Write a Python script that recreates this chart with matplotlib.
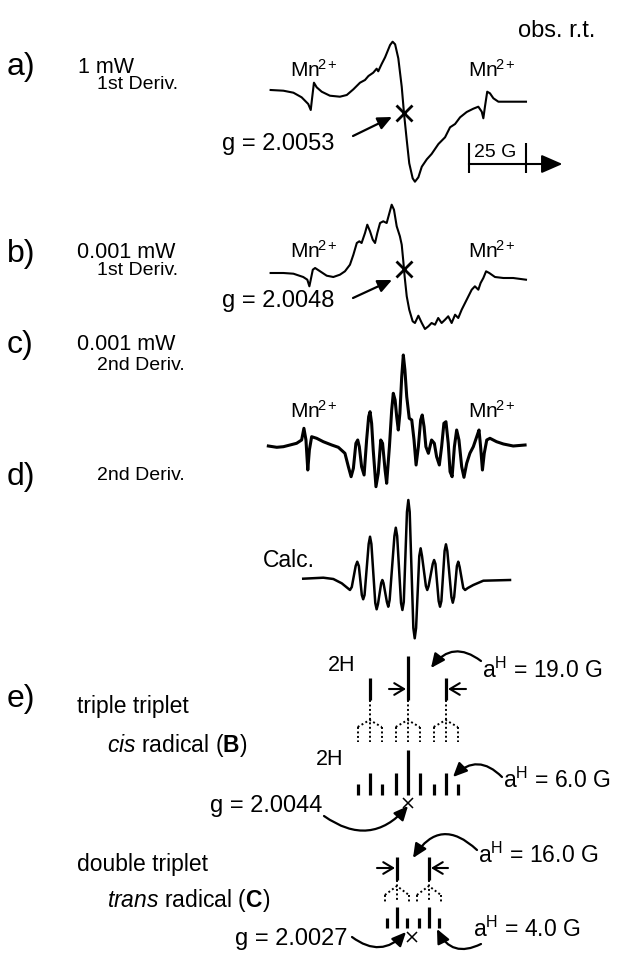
import numpy as np
import matplotlib
matplotlib.use('Agg')
import matplotlib.pyplot as plt

plt.rcParams['font.family'] = ['Liberation Sans', 'DejaVu Sans']
plt.rcParams['mathtext.fontset'] = 'custom'
plt.rcParams['mathtext.rm'] = 'Liberation Sans'
plt.rcParams['mathtext.it'] = 'Liberation Sans:italic'
plt.rcParams['mathtext.bf'] = 'Liberation Sans:bold'

# ===========================================
# traced spectra: field offset from the g marker (G), signal (arb. units)

# a) 1 mW, 1st derivative
field_a = [-58.5, -52.9, -48.5, -44.9, -42.0, -40.9, -40.4, -39.5, -38.3, -36.1,
           -32.5, -28.1, -25.1, -22.2, -19.3, -17.1, -15.6, -13.5, -12.0, -11.3,
           -9.8, -8.3, -6.1, -5.0, -3.9, -2.5, -1.0, 0.0, 1.2, 2.3,
           3.8, 4.8, 6.3, 7.8, 10.0, 12.1, 15.1, 18.0, 20.2, 22.4,
           24.6, 27.5, 30.4, 32.6, 34.1, 34.8, 35.5, 36.5, 37.7, 39.2,
           41.4, 45.0, 53.5]
sig_a = [0, -0.7, -2.7, -7.3, -14, -20, -10, 7.3, 2.7, -1.7,
         -5.7, -6.7, -5, 0.7, 7.3, 10, 14, 17.3, 21.3, 18.7,
         26, 32.7, 45, 48.3, 45.7, 31.7, 3.3, -23.3, -50, -73.3,
         -88.3, -91.7, -87.3, -76.7, -69.3, -64, -54, -47.3, -37.3, -34,
         -27.3, -22, -18.7, -16.7, -21.7, -28.3, -16.7, -1.7, -3.3, -8.3,
         -11.7, -11.7, -11.7]

# b) 0.001 mW, 1st derivative
field_b = [-58.5, -52.9, -48.5, -44.2, -42.4, -41.5, -40.9, -40.0, -39.0, -36.8,
           -33.9, -31.0, -28.1, -25.9, -23.7, -22.2, -20.7, -19.6, -18.6, -17.1,
           -16.1, -14.9, -13.7, -12.7, -11.7, -10.5, -9.1, -7.6, -6.4, -5.4,
           -4.4, -3.2, -1.8, -1.0, -0.3, 0.3, 1.2, 2.3, 3.8, 4.8,
           6.3, 7.8, 9.2, 10.7, 12.1, 13.6, 15.0, 16.5, 18.0, 19.4,
           20.9, 22.4, 23.8, 25.3, 27.5, 29.7, 31.1, 32.6, 33.6, 34.8,
           36.0, 37.4, 39.9, 43.6, 47.9, 53.5]
sig_b = [0, 0, -0.7, -4, -6.7, -13.3, -6.7, 3.3, 5, 1.7,
         -2.7, -4, -1.7, 1.7, 8.3, 18.3, 30, 31.7, 30, 40,
         48.3, 41.7, 33.3, 30, 40, 50, 51.7, 50, 60, 68.3,
         63.3, 46.7, 36.7, 28.3, 11.7, -4, -23.3, -36.7, -48.3, -50,
         -42.7, -50, -56, -53.3, -50, -51.7, -45, -50, -46.7, -43.3,
         -50, -41.7, -45, -36.7, -26.7, -16.7, -13.3, -16.7, -10, -5,
         1.7, 0, -4, -5, -5, -6.7]

# c) 0.001 mW, 2nd derivative
field_c = [-59.5, -55.8, -52.9, -50.0, -47.1, -44.9, -43.9, -43.0, -42.2, -41.5,
           -40.5, -38.3, -35.4, -31.7, -28.8, -25.9, -24.4, -23.2, -22.2, -21.1,
           -20.3, -19.6, -18.6, -17.5, -16.4, -15.5, -14.9, -14.2, -13.5, -12.3,
           -11.3, -10.2, -9.4, -8.3, -7.6, -6.4, -5.4, -4.7, -3.9, -3.2,
           -2.5, -1.8, -1.0, -0.3, 0.4, 1.2, 2.3, 3.4, 4.4, 5.3,
           6.3, 7.3, 8.0, 8.8, 9.6, 10.7, 12.1, 13.3, 14.3, 15.5,
           16.5, 17.5, 18.4, 19.4, 20.2, 21.1, 22.1, 23.1, 24.1, 25.3,
           26.3, 27.5, 28.9, 30.4, 31.9, 32.9, 33.6, 34.4, 35.2, 36.3,
           37.7, 40.6, 43.6, 47.9, 53.1]
sig_c = [0, -1.3, -0.7, 1, 2.7, 6, 17.7, 6, -24, -4,
         9.3, 7.7, 4.3, 1, -1.3, -7.3, -20.7, -30.7, -22.3, 2.7,
         6, -0.7, -20.7, -29, 6, 29.3, 34.3, 22.7, -4, -40.7,
         -27.3, 6, 2.7, -24, -37.3, -0.7, 36, 52.7, 46, 29.3,
         16, 32.7, 69.3, 91, 76, 49.3, 27.7, 26, 6, -19,
         -0.7, 26, 31, 19.3, -0.7, -7.3, 6, 2.7, -10.7, -19,
         -0.7, 22.7, 24.3, 2.7, -25.7, -30.7, -0.7, 16, 6, -20.7,
         -31.3, -17.3, -7.3, -0.7, 9.3, 16, -0.7, -24, -7.3, 6,
         7.7, 4.3, 2, 0, 1]

# d) calculated 2nd derivative
field_d = [-44.2, -35.4, -31.0, -27.3, -24.5, -23.7, -22.9, -21.2, -20.5, -19.8,
           -18.5, -17.9, -17.3, -15.5, -14.9, -14.3, -12.6, -12.0, -11.4, -10.0,
           -9.5, -9.0, -7.5, -6.9, -6.3, -4.2, -3.6, -3.0, -1.3, -0.7,
           -0.1, 1.3, 1.9, 2.5, 4.1, 4.7, 5.3, 6.7, 7.3, 7.9,
           9.6, 10.2, 10.8, 12.6, 13.2, 13.8, 15.2, 15.8, 16.4, 17.8,
           18.4, 19.0, 20.8, 21.4, 22.0, 23.2, 23.8, 24.4, 26.0, 26.8,
           28.0, 30.4, 34.8, 46.5]
sig_d = [1.3, 2.3, 1, -3.3, -8.5, -10, -7, 14, 18.3, 14,
         -15, -19.3, -15, 36, 43.3, 36, -23, -29.3, -24, -3,
         0, -3, -22, -26.7, -20, 44, 52.3, 44, -23, -30,
         -22, 68, 80, 68, -48, -58.3, -48, 24, 31.7, 24,
         -6, -10, -6, 16, 20, 16, -21, -26.7, -21, 29,
         35.7, 29, -17, -22.7, -17, 14, 18.3, 13, -8, -10,
         -8, -5, -0.7, 0]

# e) stick diagrams: line positions (G from centre) and relative intensities
cis_split = [-19, 0, 19]
cis_split_int = [1, 2, 1]
cis_lines = [-25, -19, -13, -6, 0, 6, 13, 19, 25]
cis_lines_int = [1, 2, 1, 2, 4, 2, 1, 2, 1]
trans_split = [-8, 8]
trans_split_int = [1, 1]
trans_lines = [-13, -8, -3, 3, 8, 13]
trans_lines_int = [1, 2, 1, 1, 2, 1]

# ===========================================

W, H = 617, 956
fig = plt.figure(figsize=(W / 100, H / 100), dpi=100)


def full_axes(xlim):
    a = fig.add_axes([0, 0, 1, 1])
    a.set_xlim(*xlim)
    a.set_ylim(H, 0)
    a.axis('off')
    a.patch.set_alpha(0)
    return a


ov = full_axes((0, W))                       # page, pixels
X0, PXG = 404, 2.28                          # spectra field scale
sp = full_axes(((0 - X0) / PXG, (W - X0) / PXG))
cis = full_axes(((0 - 407.7) / 2.0, (W - 407.7) / 2.0))
trans = full_axes(((0 - 412.9) / 2.0, (W - 412.9) / 2.0))

### spectra
spectra = [(field_a, sig_a, 90, 1.5), (field_b, sig_b, 273, 1.5),
           (field_c, sig_c, 446, 2.2), (field_d, sig_d, 580, 1.8)]
for f, s, base, lw in spectra:
    sp.plot(f, base - np.array(s), color='k', lw=lw, solid_joinstyle='round')

for f, s, base in [(field_a, sig_a, 90), (field_b, sig_b, 273)]:
    sp.plot(0, base - np.interp(0, f, s), marker='x', ms=11, mew=2, color='k')

# 25 G scale bar
sp.plot([28.5, 53.5], [164, 164], color='k', lw=1.5)
sp.vlines([28.5, 53.5], 143, 173, color='k', lw=1.5)
sp.annotate('', xy=(69.5, 164), xytext=(53, 164),
            arrowprops=dict(arrowstyle='-|>,head_length=0.8,head_width=0.35',
                            lw=1.5, color='k', mutation_scale=16, shrinkA=0, shrinkB=0))
ov.text(474, 157, '25 G', fontsize=14)

### stick diagrams
def sticks(a, pos, inten, bottom, unit):
    a.vlines(pos, bottom - unit * np.array(inten), bottom, color='k', lw=2.3)

sticks(cis, cis_split, cis_split_int, 700, 22)
sticks(cis, cis_lines, cis_lines_int, 795, 11.2)
sticks(trans, trans_split, trans_split_int, 880, 23)
sticks(trans, trans_lines, trans_lines_int, 928, 10.5)

dot = dict(color='k', lw=1.4, ls=(0, (1, 1.3)))
for a, pos, top, apex, side, end in [(cis, cis_split, 700, 720, 727, 742),
                                     (trans, trans_split, 880, 886, 895, 902)]:
    for p in pos:
        a.plot([p, p], [top, end], **dot)
        a.plot([p - 6, p, p + 6], [side, apex, side], **dot)
        a.vlines([p - 6, p + 6], side, end, **dot)

cis.plot(0, 803, marker='x', ms=7, mew=1.1, color='k')
trans.plot(-0.5, 936.5, marker='x', ms=7, mew=1.1, color='k')

# spacing arrows
harr = dict(arrowstyle='->,head_length=0.5,head_width=0.3', lw=1.5, color='k',
            mutation_scale=14, shrinkA=0, shrinkB=0)
for x1, x2, y in [(389, 406, 689), (466, 448, 689), (377, 395, 868), (448, 431, 868)]:
    ov.annotate('', xy=(x2, y), xytext=(x1, y), arrowprops=harr)

### curved / pointer arrows
carr = dict(arrowstyle='-|>,head_length=0.7,head_width=0.32', lw=1.6, color='k',
            mutation_scale=12, shrinkA=0, shrinkB=0)
for start, end, rad in [((353, 136), (392, 117), 0.0),
                        ((353, 298), (392, 280), 0.0),
                        ((481, 661), (431, 668), 0.5),
                        ((502, 777), (453, 777), 0.5),
                        ((324, 816), (408, 806), 0.45),
                        ((477, 850), (413, 858), 0.6),
                        ((481, 944), (437, 929), -0.5),
                        ((352, 937), (406, 932), 0.45)]:
    ov.annotate('', xy=end, xytext=start,
                arrowprops=dict(connectionstyle='arc3,rad=%s' % rad, **carr))

### labels
ov.text(557, 37, 'obs. r.t.', fontsize=17, ha='center')
for lab, y in [('a)', 67), ('b)', 254), ('c)', 345), ('d)', 477), ('e)', 699)]:
    ov.text(7, y, lab, fontsize=23, va='center')

ov.text(78, 73, '1 mW', fontsize=15.5)
ov.text(97, 89, '1st Deriv.', fontsize=14)
ov.text(77, 258, '0.001 mW', fontsize=15.5)
ov.text(97, 275, '1st Deriv.', fontsize=14)
ov.text(77, 350, '0.001 mW', fontsize=15.5)
ov.text(97, 370, '2nd Deriv.', fontsize=14)
ov.text(97, 480, '2nd Deriv.', fontsize=14)

mn = r'Mn$^{\!\mathrm{2+}}$'
for y in [77, 258, 418]:
    ov.text(290, y, mn, fontsize=15)
    ov.text(468, y, mn, fontsize=15)

ov.text(222, 150, 'g = 2.0053', fontsize=17)
ov.text(222, 307, 'g = 2.0048', fontsize=17)
ov.text(263, 567, 'Calc.', fontsize=16.5)

ov.text(77, 713, 'triple triplet', fontsize=16.5)
ov.text(107, 752, r'$\mathit{cis}$ radical ($\mathbf{B}$)', fontsize=16.5)
ov.text(77, 871, 'double triplet', fontsize=16.5)
ov.text(107, 907, r'$\mathit{trans}$ radical ($\mathbf{C}$)', fontsize=16.5)
ov.text(328, 671, '2H', fontsize=15.5)
ov.text(316, 765, '2H', fontsize=15.5)
ov.text(482, 678, r'a$^{\mathrm{H}}$ = 19.0 G', fontsize=16.5)
ov.text(503, 788, r'a$^{\mathrm{H}}$ = 6.0 G', fontsize=16.5)
ov.text(478, 863, r'a$^{\mathrm{H}}$ = 16.0 G', fontsize=16.5)
ov.text(473, 937, r'a$^{\mathrm{H}}$ = 4.0 G', fontsize=16.5)
ov.text(210, 812, 'g = 2.0044', fontsize=17)
ov.text(235, 945, 'g = 2.0027', fontsize=17)

plt.savefig('out.png', dpi=100)
